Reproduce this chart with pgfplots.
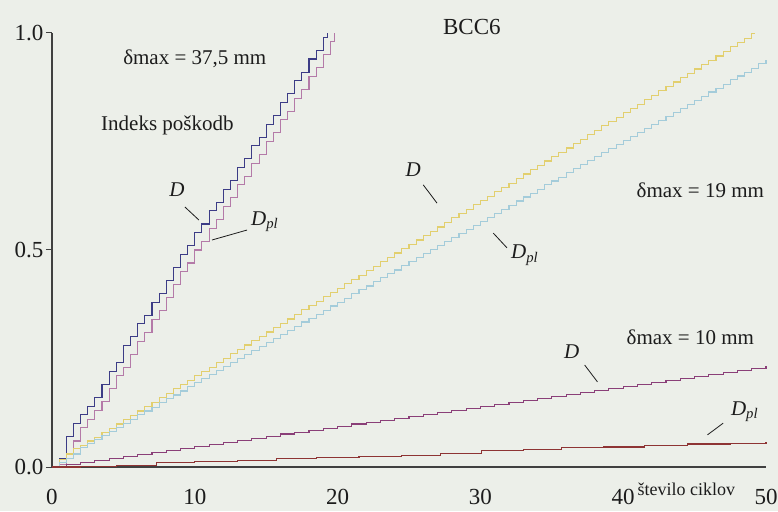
\documentclass[border=0pt]{standalone}
\usepackage{pgfplots}
\pgfplotsset{compat=1.18}
\usepackage{fontspec}
\setmainfont{Liberation Serif}
\definecolor{bgc}{HTML}{ECEFE9}
\definecolor{navyc}{HTML}{3C3C86}
\definecolor{pinkc}{HTML}{B47AA8}
\definecolor{yelc}{HTML}{E2CF6E}
\definecolor{bluec}{HTML}{A4CCDA}
\definecolor{purc}{HTML}{8A3F78}
\definecolor{brnc}{HTML}{8E3434}
\definecolor{txtc}{HTML}{1C1C1C}
\begin{document}
\begin{tikzpicture}
\useasboundingbox[fill=bgc] (-52pt,-44pt) rectangle (726pt,467pt);
\begin{axis}[
  at={(0,0)}, anchor=south west,
  scale only axis, width=714pt, height=434pt,
  xmin=0, xmax=50, ymin=0, ymax=1,
  clip=false,
  axis x line*=bottom, axis y line*=left,
  axis line style={line width=1.2pt, draw=black!75},
  xtick={0,10,20,30,40,50}, xticklabels={0,10,20,30,40,50},
  ytick={0,0.5,1}, yticklabels={0.0,0.5,1.0},
  x tick style={draw=none},
  y tick style={line width=1pt, draw=black!75},
  tick align=outside, major tick length=6pt,
  xticklabel style={font=\fontsize{23}{25}\selectfont, text=txtc, yshift=-13pt},
  yticklabel style={font=\fontsize{23}{25}\selectfont, text=txtc, xshift=1pt},
  every axis plot/.append style={line width=1.1pt},
]
% delta max = 37,5 mm
\addplot[navyc, const plot] coordinates {
(0,0) (0.5,0.02) (1,0.07) (1.5,0.10) (2,0.12) (2.5,0.14) (3,0.16) (3.5,0.19) (4,0.22) (4.5,0.24)
(5,0.28) (5.5,0.30) (6,0.33) (6.5,0.35) (7,0.38) (7.5,0.40) (8,0.43) (8.5,0.46) (9,0.49) (9.5,0.51)
(10,0.54) (10.5,0.56) (11,0.59) (11.5,0.61) (12,0.64) (12.5,0.66) (13,0.69) (13.5,0.71) (14,0.74) (14.5,0.76)
(15,0.79) (15.5,0.81) (16,0.84) (16.5,0.86) (17,0.89) (17.5,0.91) (18,0.94) (18.5,0.96) (19,0.99) (19.3,1.0)};
\addplot[pinkc, const plot] coordinates {
(0,0) (0.5,0.005) (1,0.02) (1.5,0.06) (2,0.09) (2.5,0.11) (3,0.13) (3.5,0.15) (4,0.18) (4.5,0.21)
(5,0.23) (5.5,0.26) (6,0.29) (6.5,0.31) (7,0.34) (7.5,0.36) (8,0.39) (8.5,0.42) (9,0.45) (9.5,0.47)
(10,0.50) (10.5,0.52) (11,0.55) (11.5,0.57) (12,0.60) (12.5,0.62) (13,0.65) (13.5,0.67) (14,0.70) (14.5,0.72)
(15,0.75) (15.5,0.77) (16,0.80) (16.5,0.82) (17,0.85) (17.5,0.87) (18,0.90) (18.5,0.92) (19,0.95) (19.5,0.98) (19.8,1.0)};
% delta max = 19 mm
\addplot[yelc, const plot] coordinates {
(0,0) (0.5,0.018) (1,0.030) (1.5,0.042) (2,0.050) (2.5,0.060) (3,0.069) (3.5,0.079) (4,0.089) (4.5,0.099)
(5,0.109) (5.5,0.119) (6,0.129) (6.5,0.139) (7,0.149) (7.5,0.160) (8,0.170) (8.5,0.180) (9,0.190) (9.5,0.200)
(10,0.210) (10.5,0.220) (11,0.230) (11.5,0.240) (12,0.250) (12.5,0.261) (13,0.271) (13.5,0.281) (14,0.291) (14.5,0.301)
(15,0.311) (15.5,0.321) (16,0.331) (16.5,0.341) (17,0.351) (17.5,0.362) (18,0.372) (18.5,0.382) (19,0.392) (19.5,0.402)
(20,0.412) (20.5,0.422) (21,0.432) (21.5,0.442) (22,0.452) (22.5,0.463) (23,0.473) (23.5,0.483) (24,0.493) (24.5,0.503)
(25,0.513) (25.5,0.523) (26,0.533) (26.5,0.543) (27,0.553) (27.5,0.564) (28,0.574) (28.5,0.584) (29,0.594) (29.5,0.604)
(30,0.614) (30.5,0.624) (31,0.634) (31.5,0.644) (32,0.654) (32.5,0.665) (33,0.675) (33.5,0.685) (34,0.695) (34.5,0.705)
(35,0.715) (35.5,0.725) (36,0.735) (36.5,0.745) (37,0.755) (37.5,0.766) (38,0.776) (38.5,0.786) (39,0.796) (39.5,0.806)
(40,0.816) (40.5,0.826) (41,0.836) (41.5,0.846) (42,0.856) (42.5,0.867) (43,0.877) (43.5,0.887) (44,0.897) (44.5,0.907)
(45,0.917) (45.5,0.927) (46,0.937) (46.5,0.947) (47,0.957) (47.5,0.968) (48,0.978) (48.5,0.988) (49,0.998) (49.2,1.0)};
\addplot[bluec, const plot] coordinates {
(0,0) (0.5,0.010) (1,0.020) (1.5,0.030) (2,0.045) (2.5,0.054) (3,0.064) (3.5,0.073) (4,0.082) (4.5,0.092)
(5,0.101) (5.5,0.110) (6,0.120) (6.5,0.129) (7,0.138) (7.5,0.148) (8,0.157) (8.5,0.166) (9,0.175) (9.5,0.185)
(10,0.194) (10.5,0.203) (11,0.213) (11.5,0.222) (12,0.231) (12.5,0.241) (13,0.250) (13.5,0.259) (14,0.268) (14.5,0.278)
(15,0.287) (15.5,0.296) (16,0.306) (16.5,0.315) (17,0.324) (17.5,0.334) (18,0.343) (18.5,0.352) (19,0.361) (19.5,0.371)
(20,0.380) (20.5,0.389) (21,0.399) (21.5,0.408) (22,0.417) (22.5,0.427) (23,0.436) (23.5,0.445) (24,0.454) (24.5,0.464)
(25,0.473) (25.5,0.482) (26,0.492) (26.5,0.501) (27,0.510) (27.5,0.520) (28,0.529) (28.5,0.538) (29,0.547) (29.5,0.557)
(30,0.566) (30.5,0.575) (31,0.585) (31.5,0.594) (32,0.603) (32.5,0.613) (33,0.622) (33.5,0.631) (34,0.640) (34.5,0.650)
(35,0.659) (35.5,0.668) (36,0.678) (36.5,0.687) (37,0.696) (37.5,0.706) (38,0.715) (38.5,0.724) (39,0.733) (39.5,0.743)
(40,0.752) (40.5,0.761) (41,0.771) (41.5,0.780) (42,0.789) (42.5,0.799) (43,0.808) (43.5,0.817) (44,0.826) (44.5,0.836)
(45,0.845) (45.5,0.854) (46,0.864) (46.5,0.873) (47,0.882) (47.5,0.892) (48,0.901) (48.5,0.910) (49,0.919) (49.5,0.929) (50,0.938)};
% delta max = 10 mm
\addplot[purc, const plot] coordinates {
(0,0) (1,0.006) (2,0.010) (3,0.015) (4,0.020) (5,0.025) (6,0.029) (7,0.034) (8,0.038) (9,0.043)
(10,0.048) (11,0.052) (12,0.057) (13,0.062) (14,0.066) (15,0.071) (16,0.076) (17,0.080) (18,0.085) (19,0.089)
(20,0.094) (21,0.099) (22,0.103) (23,0.108) (24,0.112) (25,0.117) (26,0.122) (27,0.126) (28,0.131) (29,0.135)
(30,0.140) (31,0.145) (32,0.149) (33,0.154) (34,0.158) (35,0.163) (36,0.168) (37,0.172) (38,0.177) (39,0.181)
(40,0.186) (41,0.191) (42,0.195) (43,0.200) (44,0.204) (45,0.209) (46,0.214) (47,0.218) (48,0.223) (49,0.227) (50,0.232)};
\addplot[brnc, const plot] coordinates {
(0,0) (2,0.002) (4.5,0.004) (7.3,0.010) (10,0.012) (13,0.015) (15.7,0.019) (18.5,0.021) (21.5,0.024) (24.5,0.027)
(27.2,0.032) (30.1,0.037) (33,0.040) (35.7,0.044) (38.6,0.046) (41.5,0.050) (44.5,0.053) (47.5,0.055) (50,0.057)};
% annotations
\begin{scope}[every node/.style={text=txtc, font=\fontsize{21}{24}\selectfont}]
\node at (axis cs:10.0,0.94) {δmax = 37,5 mm};
\node[anchor=west] at (axis cs:3.2,0.788) {Indeks poškodb};
\node at (axis cs:8.75,0.640) {\textit{D}};
\draw[txtc, line width=0.8pt] (axis cs:9.31,0.599) -- (axis cs:10.29,0.569);
\node at (axis cs:14.9,0.565) {\textit{D}\textsubscript{\textit{pl}}};
\draw[txtc, line width=0.8pt] (axis cs:11.2,0.523) -- (axis cs:13.66,0.546);
\node[font=\fontsize{23}{25}\selectfont] at (axis cs:29.4,1.014) {BCC6};
\node at (axis cs:25.3,0.686) {\textit{D}};
\draw[txtc, line width=0.8pt] (axis cs:26.0,0.650) -- (axis cs:26.96,0.608);
\node at (axis cs:33.1,0.488) {\textit{D}\textsubscript{\textit{pl}}};
\draw[txtc, line width=0.8pt] (axis cs:30.9,0.539) -- (axis cs:31.86,0.505);
\node at (axis cs:45.4,0.638) {δmax = 19 mm};
\node at (axis cs:44.7,0.300) {δmax = 10 mm};
\node at (axis cs:36.4,0.265) {\textit{D}};
\draw[txtc, line width=0.8pt] (axis cs:37.3,0.235) -- (axis cs:38.2,0.196);
\node at (axis cs:48.5,0.127) {\textit{D}\textsubscript{\textit{pl}}};
\draw[txtc, line width=0.8pt] (axis cs:45.9,0.074) -- (axis cs:47.0,0.101);
\node[anchor=west, inner sep=0pt, font=\fontsize{18}{20}\selectfont] at (axis cs:41.0,-0.052) {število ciklov};
\end{scope}
\end{axis}
\end{tikzpicture}
\end{document}
